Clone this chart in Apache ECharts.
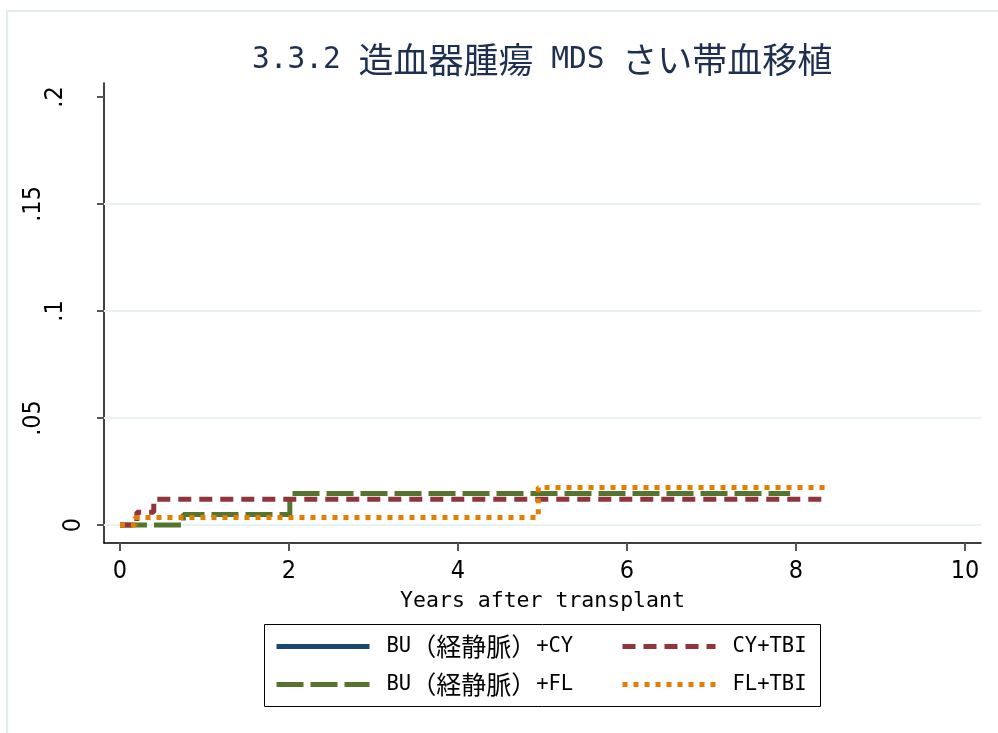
<!DOCTYPE html>
<html>
<head>
<meta charset="utf-8">
<script src="https://cdn.jsdelivr.net/npm/echarts@6/dist/echarts.min.js"></script>
<style>
  html, body { margin: 0; padding: 0; background: #ffffff; }
  #chart { width: 998px; height: 733px; }
</style>
</head>
<body>
<div id="chart"></div>
<script>
// Text
const titleText = '3.3.2 造血器腫瘍 MDS さい帯血移植';
const xAxisTitle = 'Years after transplant';
const seriesNames = ['BU（経静脈）+CY', 'BU（経静脈）+FL', 'CY+TBI', 'FL+TBI'];

// Tick values
const xTicks = [0, 2, 4, 6, 8, 10];
const yTicks = [0, 0.05, 0.1, 0.15, 0.2];
const yGridValues = [0, 0.05, 0.1, 0.15];

// Step curves: event time (years) and cumulative incidence after the step
const buCyTime = [0];
const buCyValue = [0];
const buFlTime = [0, 0.75, 2.01, 7.93];
const buFlValue = [0, 0.0049, 0.0147, 0.0147];
const cyTbiTime = [0, 0.2, 0.4, 8.38];
const cyTbiValue = [0, 0.006, 0.012, 0.012];
const flTbiTime = [0, 0.18, 4.95, 8.40];
const flTbiValue = [0, 0.0035, 0.0175, 0.0175];

const monoFont = '"DejaVu Sans Mono", "Liberation Mono", monospace';
const cjkFont = '"Noto Sans CJK JP", "Noto Sans CJK SC", sans-serif';
const tickFont = '"Liberation Sans Narrow", "DejaVu Sans Condensed", "Liberation Sans", sans-serif';

// Wrap ASCII runs and CJK runs in separate rich-text styles
function richify(str) {
  return (str.match(/[\x00-\x7f]+|[^\x00-\x7f]+/g) || [])
    .map(run => (/^[\x00-\x7f]+$/.test(run) ? '{a|' + run + '}' : '{c|' + run + '}'))
    .join('');
}

function pairs(t, v) {
  return t.map((x, i) => [x, v[i]]);
}

const seriesStyles = [
  { color: '#1a476f', dash: 'solid' },
  { color: '#55752f', dash: [27, 7] },
  { color: '#90353b', dash: [13, 8] },
  { color: '#e37e00', dash: [5, 6] }
];
const seriesData = [
  pairs(buCyTime, buCyValue),
  pairs(buFlTime, buFlValue),
  pairs(cyTbiTime, cyTbiValue),
  pairs(flTbiTime, flTbiValue)
];

const series = seriesNames.map((name, i) => {
  const s = {
    name: name,
    type: 'line',
    step: 'end',
    symbol: 'none',
    showSymbol: false,
    data: seriesData[i],
    lineStyle: { color: seriesStyles[i].color, width: 5, type: seriesStyles[i].dash, cap: 'butt' },
    itemStyle: { color: seriesStyles[i].color },
    z: 3
  };
  if (i === 0) {
    s.markLine = {
      silent: true,
      symbol: 'none',
      label: { show: false },
      lineStyle: { color: '#eaf2f3', width: 2, type: 'solid' },
      data: yGridValues.map(v => ({ yAxis: v })),
      z: 1
    };
  }
  return s;
});

// Legend: two columns, two rows; one legend block per entry
const legendRich = {
  a: { fontFamily: monoFont, fontSize: 20.5, lineHeight: 25, color: '#000' },
  c: { fontFamily: cjkFont, fontSize: 25, lineHeight: 25, color: '#000' }
};
const legendItemHeight = 34;
function legendEntry(name, left, centerY) {
  return {
    data: [name],
    orient: 'vertical',
    left: left,
    top: centerY - legendItemHeight / 2,
    padding: 0,
    itemWidth: 93,
    itemHeight: legendItemHeight,
    selectedMode: false,
    lineStyle: { width: 5 },
    itemStyle: { opacity: 0, borderWidth: 0 },
    formatter: n => richify(n),
    textStyle: { padding: [0, 0, 0, 12], rich: legendRich }
  };
}

const chart = echarts.init(document.getElementById('chart'), null, { renderer: 'canvas' });
chart.setOption({
  animation: false,
  backgroundColor: '#ffffff',
  title: {
    text: richify(titleText),
    left: 252,
    top: 40,
    padding: 0,
    textStyle: {
      fontWeight: 'normal',
      rich: {
        a: { fontFamily: monoFont, fontSize: 29.5, fontWeight: 'normal', lineHeight: 40, color: '#1e2f50' },
        c: { fontFamily: cjkFont, fontSize: 35, fontWeight: 'normal', lineHeight: 40, color: '#1e2f50' }
      }
    }
  },
  grid: { left: 104, right: 17, top: 83, bottom: 190, containLabel: false },
  xAxis: {
    type: 'value',
    min: -0.189,
    max: 10.189,
    name: xAxisTitle,
    nameLocation: 'middle',
    nameGap: 38,
    nameTextStyle: { fontFamily: monoFont, fontSize: 21.5, lineHeight: 25, color: '#000' },
    axisLine: { show: true, onZero: false, lineStyle: { color: '#000', width: 1.5 } },
    axisTick: { show: true, length: 8, customValues: xTicks, lineStyle: { color: '#555', width: 2 } },
    axisLabel: {
      customValues: xTicks,
      margin: 16,
      fontFamily: tickFont,
      fontSize: 25,
      lineHeight: 25,
      color: '#000',
      formatter: v => String(v)
    },
    splitLine: { show: false }
  },
  yAxis: {
    type: 'value',
    min: -0.0084,
    max: 0.2065,
    axisLine: { show: true, onZero: false, lineStyle: { color: '#000', width: 1.5 } },
    axisTick: { show: true, length: 7, customValues: yTicks, lineStyle: { color: '#555', width: 2 } },
    axisLabel: {
      customValues: yTicks,
      rotate: 90,
      margin: 18,
      formatter: v => {
        const s = v === 0 ? '0' : String(v).replace(/^0\./, '.');
        return '{p' + s.length + '|' + s + '}';
      },
      rich: {
        p1: { fontFamily: tickFont, fontSize: 25, lineHeight: 25, color: '#000', padding: [0, 0, 0, 0] },
        p2: { fontFamily: tickFont, fontSize: 25, lineHeight: 25, color: '#000', padding: [0, 0, 36, 0] },
        p3: { fontFamily: tickFont, fontSize: 25, lineHeight: 25, color: '#000', padding: [0, 0, 80, 0] }
      }
    },
    splitLine: { show: false }
  },
  legend: [
    legendEntry(seriesNames[0], 274, 650),
    legendEntry(seriesNames[1], 274, 688),
    legendEntry(seriesNames[2], 620, 650),
    legendEntry(seriesNames[3], 620, 688)
  ],
  graphic: [
    {
      type: 'rect',
      silent: true,
      z: -10,
      shape: { x: 7, y: 11, width: 1000, height: 740 },
      style: { fill: null, stroke: '#e3ecef', lineWidth: 2 }
    },
    {
      type: 'rect',
      silent: true,
      shape: { x: 264.5, y: 624.5, width: 556, height: 82 },
      style: { fill: null, stroke: '#000', lineWidth: 1 }
    }
  ],
  series: series
});
</script>
</body>
</html>
